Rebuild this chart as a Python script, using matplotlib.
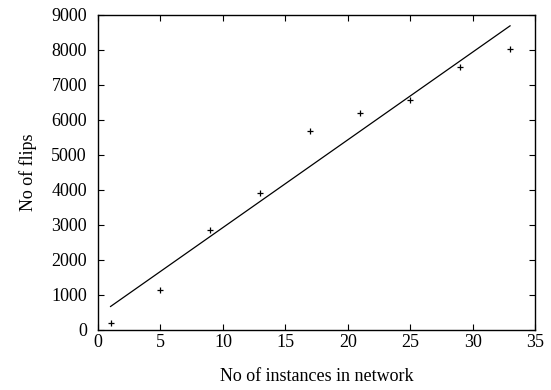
import matplotlib
matplotlib.use("Agg")
import matplotlib.pyplot as plt

# data
instances = [1, 5, 9, 13, 17, 21, 25, 29, 33]
flips = [200, 1140, 2860, 3900, 5680, 6200, 6570, 7500, 8030]

# fitted line, end points
fit_x = [1, 33]
fit_y = [670, 8685]

plt.rcParams['font.family'] = ['Liberation Serif', 'DejaVu Serif']
plt.rcParams['font.size'] = 13

fig = plt.figure(figsize=(5.51, 3.90), dpi=100)
ax = fig.add_axes([0.178, 0.154, 0.793, 0.808])

ax.plot(fit_x, fit_y, color='black', linewidth=0.9)
ax.plot(instances, flips, linestyle='none', marker='+', color='black',
        markersize=5, markeredgewidth=0.9)

ax.set_xlim(0, 35)
ax.set_ylim(0, 9000)
ax.set_xticks(range(0, 36, 5))
ax.set_yticks(range(0, 9001, 1000))
ax.tick_params(direction='in', top=True, right=True, length=4, width=0.8)
ax.tick_params(axis='x', pad=3)
ax.tick_params(axis='y', pad=8)
for s in ax.spines.values():
    s.set_linewidth(1.0)

ax.set_xlabel("No of instances in network", labelpad=12)
ax.set_ylabel("No of flips", labelpad=10)

fig.savefig("out.png", dpi=100)
